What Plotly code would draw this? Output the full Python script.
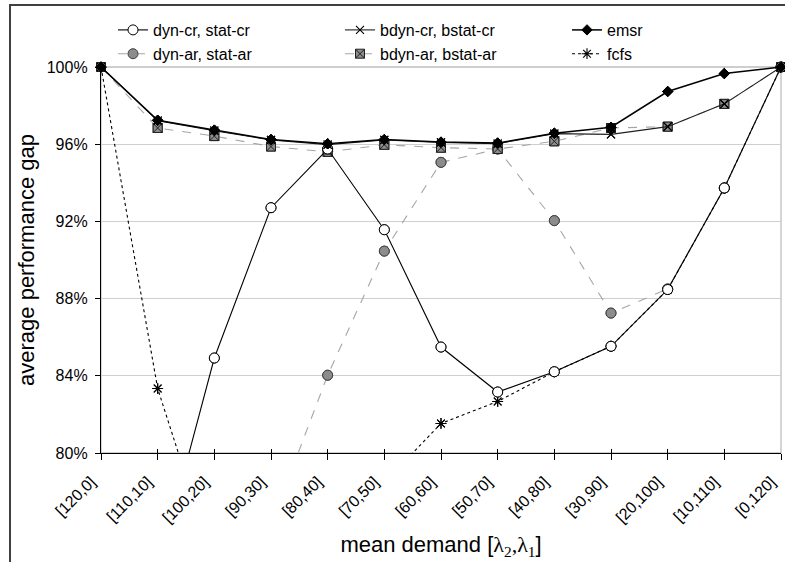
import plotly.graph_objects as go

categories = ["[120,0]", "[110,10]", "[100,20]", "[90,30]", "[80,40]", "[70,50]", "[60,60]",
              "[50,70]", "[40,80]", "[30,90]", "[20,100]", "[10,110]", "[0,120]"]

dyn_cr = [None, 73.9, 84.92, 92.71, 95.75, 91.57, 85.49, 83.16, 84.21, 85.53, 88.47, 93.73, 100]
bdyn_cr = [100, 97.22, 96.70, 96.22, 95.98, 96.22, 96.09, 96.03, 96.55, 96.51, 96.91, 98.09, 100]
emsr = [100, 97.24, 96.73, 96.24, 96.02, 96.24, 96.11, 96.06, 96.57, 96.88, 98.73, 99.66, 100]
dyn_ar = [None, 66.0, 71.5, 76.3, 84.03, 90.46, 95.06, 95.75, 92.04, 87.25, 88.50, 93.73, 100]
bdyn_ar = [100, 96.84, 96.42, 95.88, 95.60, 95.97, 95.82, 95.75, 96.15, 96.84, 96.91, 98.09, 100]
fcfs = [100, 83.34, 74.2, 71.0, 73.0, 78.47, 81.53, 82.67, 84.21, 85.53, 88.47, 93.73, 100]

y_ticks = [80, 84, 88, 92, 96, 100]
y_tick_labels = ["80%", "84%", "88%", "92%", "96%", "100%"]
Y_MIN, Y_MAX = 80, 100

FONT = "Liberation Sans, Arial, sans-serif"

series = [
    ("fcfs", fcfs, dict(color="black", width=1.1, dash="dot"),
     dict(symbol="asterisk-open", size=9, color="black", line=dict(color="black", width=1.1)), 6),
    ("dyn-ar, stat-ar", dyn_ar, dict(color="#a6a6a6", width=1.1, dash="dash"),
     dict(symbol="circle", size=10, color="#8c8c8c", line=dict(color="#404040", width=1)), 4),
    ("bdyn-ar, bstat-ar", bdyn_ar, dict(color="#a6a6a6", width=1.1, dash="dash"),
     dict(symbol="square-x", size=9, color="#8c8c8c", line=dict(color="#202020", width=1)), 5),
    ("dyn-cr, stat-cr", dyn_cr, dict(color="black", width=1.1),
     dict(symbol="circle", size=10, color="white", line=dict(color="black", width=1)), 1),
    ("bdyn-cr, bstat-cr", bdyn_cr, dict(color="#202020", width=1.1),
     dict(symbol="x-thin-open", size=8, color="black", line=dict(color="black", width=1.1)), 2),
    ("emsr", emsr, dict(color="black", width=1.5),
     dict(symbol="diamond", size=8, color="black", line=dict(color="black", width=1)), 3),
]

fig = go.Figure()
for name, data, line, marker, rank in series:
    fig.add_trace(go.Scatter(
        x=categories, y=data, name=name, mode="lines+markers",
        line=line, marker=marker, legendrank=rank, cliponaxis=True,
        connectgaps=False,
    ))
    vis = [v if (v is not None and Y_MIN <= v <= Y_MAX) else None for v in data]
    fig.add_trace(go.Scatter(
        x=categories, y=vis, mode="markers", marker=marker, showlegend=False,
        cliponaxis=False, hoverinfo="skip",
    ))

W, H = 785, 562
L, R, T, B = 101, 4, 67, 109
pw = W - L - R
ph = H - T - B

def px_x(p):
    return (p - L) / pw

def px_y(p):
    return 1 - (p - T) / ph

fig.update_layout(
    width=W, height=H,
    margin=dict(l=L, r=R, t=T, b=B, autoexpand=False),
    paper_bgcolor="white", plot_bgcolor="white",
    font=dict(family=FONT, color="black", size=16),
    showlegend=True,
    legend=dict(
        orientation="h", x=px_x(113), y=px_y(13), xanchor="left", yanchor="top",
        entrywidth=182, entrywidthmode="pixels", font=dict(size=16, family=FONT),
        bgcolor="rgba(0,0,0,0)", itemwidth=30, traceorder="normal",
    ),
    xaxis=dict(
        type="category", categoryorder="array", categoryarray=categories,
        range=[0, len(categories) - 1],
        showgrid=False, showline=True, linecolor="black", linewidth=1.3,
        ticks="outside", ticklen=6, tickcolor="black", tickwidth=1.2,
        tickangle=-45, tickfont=dict(size=16, family=FONT),
        ticklabelshift=-10, ticklabelstandoff=6,
        title=dict(text="mean demand [<span style='font-family:Liberation Serif'>λ<sub>2</sub>,λ<sub>1</sub></span>]",
                   font=dict(size=22, family=FONT), standoff=11),
        zeroline=False, automargin=False,
    ),
    xaxis2=dict(
        overlaying="x", anchor="y", side="bottom", range=[0, len(categories) - 1],
        tickmode="array", tickvals=list(range(len(categories))),
        showticklabels=False, ticks="inside", ticklen=4, tickcolor="black", tickwidth=1.2,
        showgrid=False, showline=False, zeroline=False,
    ),
    yaxis=dict(
        range=[Y_MIN, Y_MAX], tickmode="array", tickvals=y_ticks, ticktext=y_tick_labels,
        showgrid=True, gridcolor="#cfcfcf", gridwidth=1,
        showline=True, linecolor="black", linewidth=1.3,
        ticks="outside", ticklen=5, tickcolor="black", tickwidth=1.2,
        tickfont=dict(size=16, family=FONT), ticklabelstandoff=4,
        title=dict(text="average performance gap", font=dict(size=22, family=FONT), standoff=6),
        zeroline=False, automargin=False,
    ),
    shapes=[
        dict(type="rect", xref="paper", yref="paper", x0=0, y0=0, x1=1, y1=1,
             line=dict(color="#bfbfbf", width=1.3), layer="below"),
        dict(type="rect", xref="paper", yref="paper",
             x0=px_x(10), y0=px_y(575), x1=px_x(800), y1=px_y(5),
             line=dict(color="#404040", width=2), layer="below"),
    ],
)

fig.add_trace(go.Scatter(x=[0], y=[None], xaxis="x2", yaxis="y", showlegend=False,
                         hoverinfo="skip", mode="markers", marker=dict(opacity=0)))

fig.write_html("out.html")
